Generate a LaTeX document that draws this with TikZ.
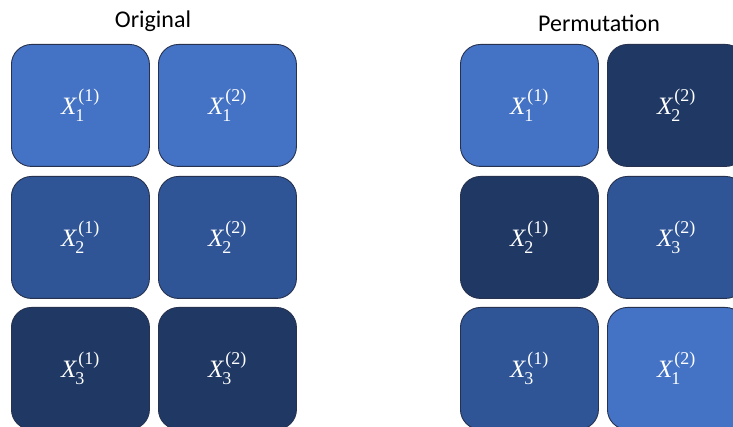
\documentclass[tikz,border=0pt]{standalone}
\usepackage{amsmath}
\usepackage{fontspec}
\setmainfont{Carlito}
\newfontfamily\cellserif{Liberation Serif}
\DeclareMathSizes{25}{25}{18}{13}
\definecolor{cellLight}{HTML}{4472C4}
\definecolor{cellMid}{HTML}{2F5597}
\definecolor{cellDark}{HTML}{203864}
\definecolor{cellEdge}{HTML}{26324F}
\tikzset{
  cell/.style={draw=cellEdge, line width=0.9pt, rounded corners=20pt,
    minimum width=138pt, minimum height=122pt, inner sep=0pt,
    anchor=north west, text=white, font=\fontsize{25}{30}\selectfont},
  light/.style={cell, fill=cellLight},
  mid/.style={cell, fill=cellMid},
  dark/.style={cell, fill=cellDark},
  heading/.style={anchor=base, font=\fontsize{24}{28}\selectfont, inner sep=0pt}
}
% X_i^{(j)} set in a Times-like serif; the superscript is nudged right of the slanted X
\newcommand{\entry}[2]{$\text{\cellserif\itshape X}_{\kern-1pt\text{\cellserif #1}}^{\kern2pt\text{\cellserif(#2)}}$}
\begin{document}
\begin{tikzpicture}[x=1pt, y=-1pt]
\useasboundingbox[fill=white] (0,0) rectangle (733,427);

% headings
\node[heading] (tOrig) at (153,28) {Original};
\node[heading] (tPerm) at (599,32) {Permutation};

% original table
\node[light] (o11) at (11,44)  {\entry{1}{1}};
\node[light] (o12) at (158,44) {\entry{1}{2}};
\node[mid]   (o21) at (11,176) {\entry{2}{1}};
\node[mid]   (o22) at (158,176) {\entry{2}{2}};
\node[dark]  (o31) at (11,307) {\entry{3}{1}};
\node[dark]  (o32) at (158,307) {\entry{3}{2}};

% permuted table
\node[light] (p11) at (460,44)  {\entry{1}{1}};
\node[dark]  (p12) at (607,44)  {\entry{2}{2}};
\node[dark]  (p21) at (460,176) {\entry{2}{1}};
\node[mid]   (p22) at (607,176) {\entry{3}{2}};
\node[mid]   (p31) at (460,307) {\entry{3}{1}};
\node[light] (p32) at (607,307) {\entry{1}{2}};
\end{tikzpicture}
\end{document}
